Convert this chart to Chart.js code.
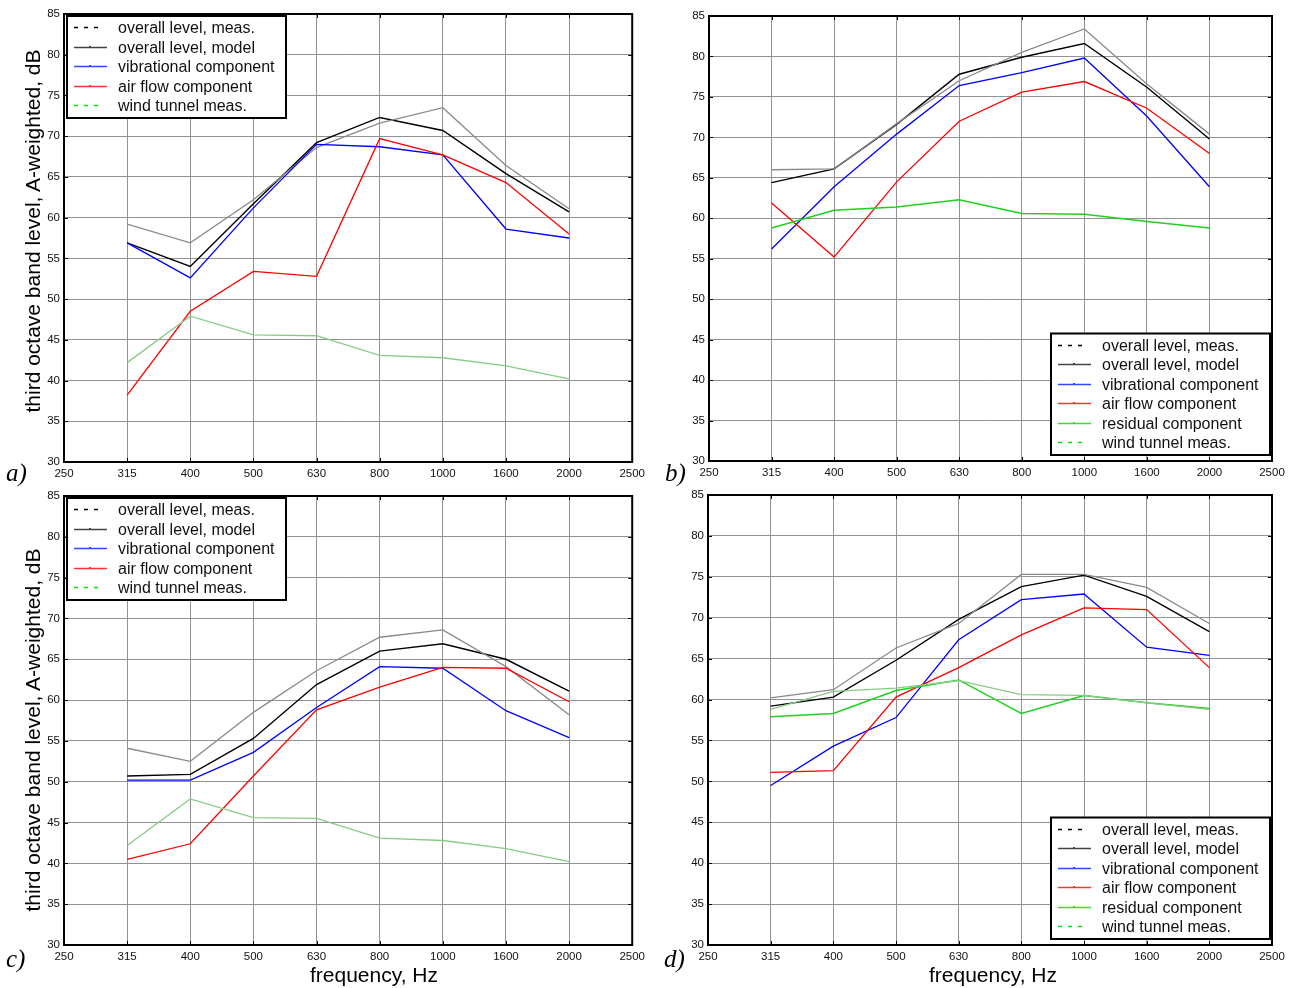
<!DOCTYPE html>
<html>
<head>
<meta charset="utf-8">
<title>Third octave band levels</title>
<script src="https://cdn.jsdelivr.net/npm/chart.js@4.4.1/dist/chart.umd.min.js"></script>
<style>
  html, body { margin: 0; padding: 0; background: #fff; }
  #page { position: relative; width: 1294px; height: 988px; overflow: hidden; background: #fff;
          font-family: "Liberation Sans", Arial, sans-serif; color: #000; }
  #page canvas { position: absolute; }
  .ytitle { position: absolute; font-size: 21px; white-space: nowrap;
            transform: translate(-50%, -50%) rotate(-90deg); }
  .xtitle { position: absolute; font-size: 21px; white-space: nowrap;
            transform: translate(-50%, -50%); }
  .tag { position: absolute; font-family: "Liberation Serif", "Times New Roman", serif;
         font-style: italic; font-size: 25px; line-height: 1; transform: translateY(-50%); }
</style>
</head>
<body>
<div id="page">
  <canvas id="panelA" width="650" height="484" style="left:0px;top:0px"></canvas>
  <canvas id="panelB" width="644" height="484" style="left:650px;top:0px"></canvas>
  <canvas id="panelC" width="650" height="504" style="left:0px;top:484px"></canvas>
  <canvas id="panelD" width="644" height="504" style="left:650px;top:484px"></canvas>

  <div class="ytitle" style="left:33px;top:231px">third octave band level, A-weighted, dB</div>
  <div class="ytitle" style="left:33px;top:730px">third octave band level, A-weighted, dB</div>
  <div class="xtitle" style="left:374px;top:975px">frequency, Hz</div>
  <div class="xtitle" style="left:993px;top:975px">frequency, Hz</div>

  <div class="tag" style="left:6px;top:472px">a)</div>
  <div class="tag" style="left:665px;top:472px">b)</div>
  <div class="tag" style="left:6px;top:958px">c)</div>
  <div class="tag" style="left:664px;top:958px">d)</div>
</div>

<script>
// Frequency axis: third octave band centres, evenly spaced
const FREQUENCY_TICKS = ['250', '315', '400', '500', '630', '800', '1000', '1600', '2000', '2500'];
const BANDS = ['315', '400', '500', '630', '800', '1000', '1600', '2000'];
const LEVEL_MIN = 30;
const LEVEL_MAX = 85;
const LEVEL_STEP = 5;

// a) levels, dB(A)
const aOverallMeas  = [59.2, 56.9, 62.2, 68.6, 71.6, 73.5, 66.4, 61.1];
const aOverallModel = [56.9, 54.0, 61.7, 69.2, 72.3, 70.7, 65.4, 60.7];
const aVibrational  = [56.9, 52.6, 61.2, 69.0, 68.7, 67.7, 58.6, 57.5];
const aAirFlow      = [38.2, 48.5, 53.4, 52.8, 69.7, 67.7, 64.3, 58.0];
const aWindTunnel   = [42.2, 47.9, 45.6, 45.5, 43.1, 42.8, 41.8, 40.2];

// b) levels, dB(A)
const bOverallMeas  = [66.0, 66.1, 71.7, 77.0, 80.5, 83.4, 76.6, 70.4];
const bOverallModel = [64.4, 66.1, 71.6, 77.8, 79.9, 81.6, 76.2, 69.8];
const bVibrational  = [56.2, 63.9, 70.4, 76.4, 78.0, 79.8, 72.6, 63.9];
const bAirFlow      = [61.9, 55.2, 64.5, 72.0, 75.6, 76.9, 73.6, 68.0];
const bResidual     = [58.8, 61.0, 61.4, 62.3, 60.6, 60.5, 59.6, 58.8];

// c) levels, dB(A)
const cOverallMeas  = [54.1, 52.5, 58.5, 63.6, 67.7, 68.6, 64.1, 58.2];
const cOverallModel = [50.7, 50.9, 55.3, 61.9, 66.0, 66.9, 65.0, 61.1];
const cVibrational  = [50.2, 50.2, 53.6, 59.1, 64.1, 63.9, 58.7, 55.4];
const cAirFlow      = [40.5, 42.4, 50.7, 58.8, 61.6, 64.0, 63.9, 59.8];
const cWindTunnel   = [42.2, 47.9, 45.6, 45.5, 43.1, 42.8, 41.8, 40.2];

// d) levels, dB(A)
const dOverallMeas  = [60.2, 61.2, 66.3, 69.3, 75.3, 75.3, 73.7, 69.3];
const dOverallModel = [59.2, 60.3, 64.8, 69.8, 73.8, 75.2, 72.6, 68.3];
const dVibrational  = [49.5, 54.3, 57.8, 67.3, 72.2, 72.9, 66.4, 65.4];
const dAirFlow      = [51.1, 51.3, 60.3, 63.9, 67.9, 71.2, 71.0, 63.9];
const dResidual     = [57.9, 58.3, 61.1, 62.4, 58.3, 60.5, 59.6, 58.9];
const dWindTunnel   = [58.8, 61.0, 61.4, 62.3, 60.6, 60.5, 59.6, 58.8];

const LEGEND_TEXT = {
  overallMeas: 'overall level, meas.',
  overallModel: 'overall level, model',
  vibrational: 'vibrational component',
  airFlow: 'air flow component',
  residual: 'residual component',
  windTunnel: 'wind tunnel meas.'
};

// plotted line styles
const LINE_STYLE = {
  overallMeas:  { color: '#8a8a8a', width: 1.3 },
  overallModel: { color: '#000000', width: 1.4 },
  vibrational:  { color: '#0000ff', width: 1.3 },
  airFlow:      { color: '#ff0000', width: 1.3 },
  residual:     { color: '#1fd01f', width: 1.5 },
  windTunnel:   { color: '#86cc86', width: 1.3 }
};

// legend sample styles
const LEGEND_SAMPLE = {
  overallMeas:  { color: '#000000', dash: [4, 6] },
  overallModel: { color: '#444444' },
  vibrational:  { color: '#3347ff' },
  airFlow:      { color: '#ff3333' },
  residual:     { color: '#33e033' },
  windTunnel:   { color: '#00e600', dash: [4, 6] }
};

const FONT = '"Liberation Sans", Arial, sans-serif';

function series(key, values) {
  const st = LINE_STYLE[key];
  return {
    label: LEGEND_TEXT[key],
    data: BANDS.map((f, i) => ({ x: f, y: values[i] })),
    borderColor: st.color,
    borderWidth: st.width,
    pointRadius: 0,
    tension: 0,
    fill: false
  };
}

// box frame with inward tick marks on all four sides
const framePlugin = {
  id: 'panelFrame',
  afterDraw(chart) {
    const { ctx, chartArea, scales } = chart;
    const { left, right, top, bottom } = chartArea;
    const xs = scales.x, ys = scales.y;
    ctx.save();
    ctx.strokeStyle = '#000';
    ctx.lineWidth = 1;
    ctx.beginPath();
    xs.ticks.forEach((t, i) => {
      const px = Math.round(xs.getPixelForTick(i)) + 0.5;
      ctx.moveTo(px, bottom); ctx.lineTo(px, bottom - 4);
      ctx.moveTo(px, top); ctx.lineTo(px, top + 4);
    });
    ys.ticks.forEach((t, i) => {
      const py = Math.round(ys.getPixelForTick(i)) + 0.5;
      ctx.moveTo(left, py); ctx.lineTo(left + 4, py);
      ctx.moveTo(right, py); ctx.lineTo(right - 4, py);
    });
    ctx.stroke();
    ctx.lineWidth = 2;
    ctx.strokeRect(left, top, right - left, bottom - top);
    ctx.restore();
  }
};

// boxed legend inside the plot area
const legendPlugin = {
  id: 'panelLegend',
  afterDraw(chart, args, opts) {
    const { ctx, chartArea } = chart;
    const keys = opts.keys;
    const n = keys.length;
    const w = 219;
    const h = 24 + (n - 1) * 19.5;
    let x0, y0;
    if (opts.corner === 'topleft') {
      x0 = chartArea.left + 3;
      y0 = chartArea.top + 2;
    } else {
      x0 = chartArea.right - 2 - w;
      y0 = chartArea.bottom - 6 - h;
    }
    ctx.save();
    ctx.fillStyle = '#fff';
    ctx.fillRect(x0, y0, w, h);
    ctx.lineWidth = 2;
    ctx.strokeStyle = '#000';
    ctx.strokeRect(x0, y0, w, h);
    ctx.font = '16px ' + FONT;
    ctx.textBaseline = 'middle';
    keys.forEach((k, i) => {
      const s = LEGEND_SAMPLE[k];
      const cy = Math.round(y0 + 11 + i * 19.5) + 0.5;
      ctx.strokeStyle = s.color;
      ctx.lineWidth = 1.4;
      ctx.setLineDash(s.dash || []);
      ctx.beginPath();
      ctx.moveTo(x0 + 7, cy);
      ctx.lineTo(x0 + (s.dash ? 33 : 40), cy);
      ctx.stroke();
      ctx.setLineDash([]);
      if (!s.dash) {
        ctx.fillStyle = s.color;
        ctx.fillRect(x0 + 22, cy - 1.5, 2, 2);
      }
      ctx.fillStyle = '#111';
      ctx.fillText(LEGEND_TEXT[k], x0 + 51, cy + 1);
    });
    ctx.restore();
  }
};

function makePanel(canvasId, geom, datasets, legend) {
  const tickFont = { family: FONT, size: 11.5 };
  const gridColor = '#929292';
  return new Chart(document.getElementById(canvasId), {
    type: 'line',
    data: { labels: FREQUENCY_TICKS, datasets },
    options: {
      responsive: false,
      animation: false,
      devicePixelRatio: 1,
      layout: { padding: { left: 0, right: geom.right, top: geom.top, bottom: 0 } },
      plugins: {
        legend: { display: false },
        tooltip: { enabled: false },
        panelLegend: legend
      },
      scales: {
        x: {
          type: 'category',
          offset: false,
          border: { display: false },
          grid: { color: gridColor, lineWidth: 1, drawTicks: false },
          ticks: { autoSkip: false, maxRotation: 0, minRotation: 0, padding: 5, color: '#111', font: tickFont },
          afterFit(scale) { scale.height = geom.xHeight; }
        },
        y: {
          min: LEVEL_MIN,
          max: LEVEL_MAX,
          border: { display: false },
          grid: { color: gridColor, lineWidth: 1, drawTicks: false },
          ticks: { stepSize: LEVEL_STEP, padding: 4, color: '#111', font: tickFont },
          afterFit(scale) { scale.width = geom.yWidth; }
        }
      }
    },
    plugins: [framePlugin, legendPlugin]
  });
}

const KEYS_FIVE = ['overallMeas', 'overallModel', 'vibrational', 'airFlow', 'windTunnel'];
const KEYS_SIX = ['overallMeas', 'overallModel', 'vibrational', 'airFlow', 'residual', 'windTunnel'];

makePanel('panelA', { yWidth: 64, right: 14, top: 14, xHeight: 22 }, [
  series('windTunnel', aWindTunnel),
  series('airFlow', aAirFlow),
  series('vibrational', aVibrational),
  series('overallMeas', aOverallMeas),
  series('overallModel', aOverallModel)
], { keys: KEYS_FIVE, corner: 'topleft' });

makePanel('panelB', { yWidth: 59, right: 22, top: 16, xHeight: 23 }, [
  series('residual', bResidual),
  series('airFlow', bAirFlow),
  series('vibrational', bVibrational),
  series('overallMeas', bOverallMeas),
  series('overallModel', bOverallModel)
], { keys: KEYS_SIX, corner: 'bottomright' });

makePanel('panelC', { yWidth: 64, right: 14, top: 12, xHeight: 43 }, [
  series('windTunnel', cWindTunnel),
  series('airFlow', cAirFlow),
  series('vibrational', cVibrational),
  series('overallMeas', cOverallMeas),
  series('overallModel', cOverallModel)
], { keys: KEYS_FIVE, corner: 'topleft' });

makePanel('panelD', { yWidth: 58, right: 22, top: 11, xHeight: 43 }, [
  series('windTunnel', dWindTunnel),
  series('residual', dResidual),
  series('airFlow', dAirFlow),
  series('vibrational', dVibrational),
  series('overallMeas', dOverallMeas),
  series('overallModel', dOverallModel)
], { keys: KEYS_SIX, corner: 'bottomright' });
</script>
</body>
</html>
